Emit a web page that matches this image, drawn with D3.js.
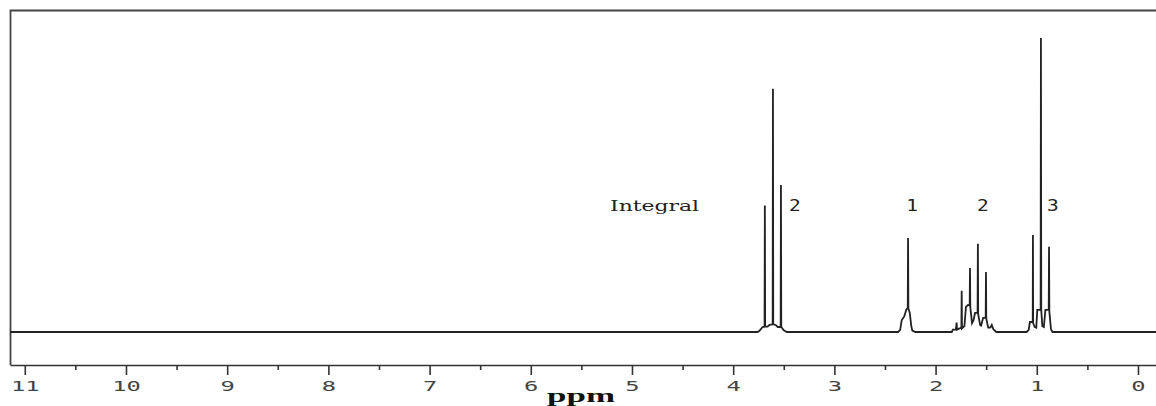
<!DOCTYPE html>
<html>
<head>
<meta charset="utf-8">
<script src="https://cdn.jsdelivr.net/npm/d3@7"></script>
<style>
  body { margin: 0; background: #fff; }
  svg { display: block; }
</style>
</head>
<body>
<script>
// spectrum trace (ppm, relative intensity)
var specPpm = [11.146, 3.76, 3.74, 3.71, 3.69, 3.687, 3.684, 3.66, 3.64, 3.61, 3.607, 3.604, 3.58, 3.56, 3.531, 3.528, 3.525, 3.50, 3.47,
    2.37, 2.35, 2.335, 2.31, 2.29, 2.275, 2.272, 2.269, 2.255, 2.24, 2.23, 2.20,
    1.84, 1.83, 1.80, 1.792, 1.788, 1.745, 1.742, 1.739, 1.715, 1.70, 1.68, 1.663, 1.660, 1.657, 1.64, 1.625, 1.61, 1.585, 1.582, 1.579, 1.56, 1.55, 1.53, 1.505, 1.502, 1.499, 1.48, 1.46, 1.445, 1.43, 1.40,
    1.10, 1.08, 1.068, 1.05, 1.040, 1.038, 1.036, 1.02, 1.005, 0.995, 0.962, 0.959, 0.956, 0.945, 0.93, 0.915, 0.882, 0.879, 0.876, 0.86, 0.845, -0.178];
var specInt = [0, 0, 0.4, 1.7, 1.8, 43, 1.8, 1.8, 2.4, 2.6, 82.7, 2.6, 2.4, 1.7, 1.7, 50, 1.7, 0.6, 0,
    0, 0.7, 4, 5.3, 7.5, 8.2, 32, 8, 6.5, 2, 0.5, 0,
    0, 0.8, 0.8, 3.2, 0.8, 1.5, 14, 1.2, 2, 8.5, 9.2, 9, 21.8, 8.5, 3, 4, 6.5, 6.5, 30, 6, 2.4, 2.2, 4.8, 4.8, 20.4, 4.5, 1.5, 1.5, 2.4, 1, 0,
    0, 0.7, 3.4, 3.4, 3.4, 33, 3, 1.7, 1.5, 7.5, 7.5, 100, 7.5, 2, 1.7, 7.5, 7.5, 29, 7, 1, 0, 0];

var majorTicks = [11, 10, 9, 8, 7, 6, 5, 4, 3, 2, 1, 0];
var minorTicks = [10.5, 9.5, 8.5, 7.5, 6.5, 5.5, 4.5, 3.5, 2.5, 1.5, 0.5];

// integral labels
var integralPpm = [3.39, 2.233, 1.532, 0.84];
var integralVal = ["2", "1", "2", "3"];

var width = 1156, height = 406;

var svg = d3.select("body").append("svg")
    .attr("width", width)
    .attr("height", height);

svg.append("rect").attr("width", width).attr("height", height).attr("fill", "#fff");

var x = d3.scaleLinear().domain([11.146, -0.178]).range([10, 1156]);
var y = d3.scaleLinear().domain([0, 100]).range([332, 38]);

// frame
svg.append("path")
    .attr("d", "M1160,10.5 H10.5 V365")
    .attr("fill", "none")
    .attr("stroke", "#444")
    .attr("stroke-width", 1.8);

// axis
var axisY = 365;
var gMajor = svg.append("g")
    .attr("transform", "translate(0," + axisY + ")")
    .call(d3.axisBottom(x).tickValues(majorTicks).tickSize(10).tickSizeOuter(0).tickFormat(d3.format("d")));
gMajor.select(".domain").attr("stroke", "#333").attr("stroke-width", 1.6);
gMajor.selectAll(".tick line").attr("stroke", "#333").attr("stroke-width", 1.6);
gMajor.selectAll(".tick text")
    .attr("y", 26).attr("dy", 0)
    .attr("font-family", "DejaVu Sans Mono, monospace")
    .attr("font-size", 14)
    .attr("font-weight", 300)
    .attr("fill", "#444")
    .attr("transform", "scale(1.7,1)");

var gMinor = svg.append("g")
    .attr("transform", "translate(0," + axisY + ")")
    .call(d3.axisBottom(x).tickValues(minorTicks).tickSize(5).tickSizeOuter(0).tickFormat(""));
gMinor.select(".domain").remove();
gMinor.selectAll(".tick line").attr("stroke", "#333").attr("stroke-width", 1.6);

svg.append("text")
    .attr("x", 547).attr("y", 402)
    .attr("textLength", 68).attr("lengthAdjust", "spacingAndGlyphs")
    .attr("font-family", "Liberation Serif, serif")
    .attr("font-weight", "bold")
    .attr("font-size", 18)
    .attr("fill", "#111")
    .text("ppm");

// spectrum
var pts = specPpm.map(function (p, i) { return [p, specInt[i]]; });
var line = d3.line()
    .x(function (d) { return x(d[0]); })
    .y(function (d) { return y(d[1]); });

svg.append("path")
    .datum(pts)
    .attr("d", line)
    .attr("fill", "none")
    .attr("stroke", "#222")
    .attr("stroke-width", 1.8)
    .attr("stroke-linejoin", "miter");

// integral text
svg.append("text")
    .attr("x", 610).attr("y", 211)
    .attr("textLength", 89).attr("lengthAdjust", "spacingAndGlyphs")
    .attr("font-family", "DejaVu Serif, serif")
    .attr("font-size", 15)
    .attr("fill", "#222")
    .text("Integral");

svg.selectAll(".intlab")
    .data(integralPpm)
    .enter()
    .append("text")
    .attr("class", "intlab")
    .attr("transform", function (d) { return "translate(" + x(d) + ",211) scale(1.3,1)"; })
    .attr("text-anchor", "middle")
    .attr("font-family", "DejaVu Sans Mono, monospace")
    .attr("font-size", 15)
    .attr("fill", "#222")
    .text(function (d, i) { return integralVal[i]; });
</script>
</body>
</html>
